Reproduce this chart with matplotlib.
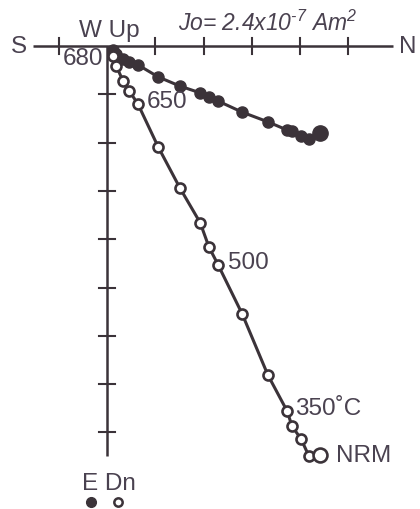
import matplotlib
matplotlib.use('Agg')
import matplotlib.pyplot as plt
import numpy as np

plt.rcParams['font.family'] = ['Liberation Sans', 'DejaVu Sans']
plt.rcParams['mathtext.fontset'] = 'custom'
plt.rcParams['mathtext.rm'] = 'Liberation Sans:italic'
plt.rcParams['mathtext.it'] = 'Liberation Sans:italic'

# demagnetization steps, NRM first (units = one tick division)
north = np.array([4.41, 4.18, 4.02, 3.83, 3.73, 3.33, 2.80, 2.30, 2.11,
                  1.93, 1.51, 1.06, 0.64, 0.46, 0.33, 0.19, 0.12])
east = np.array([1.80, 1.93, 1.86, 1.76, 1.74, 1.57, 1.37, 1.14, 1.06,
                 0.97, 0.83, 0.64, 0.39, 0.33, 0.27, 0.17, 0.08])
down = np.array([8.47, 8.49, 8.14, 7.87, 7.56, 6.81, 5.55, 4.53, 4.16,
                 3.66, 2.94, 2.09, 1.20, 0.93, 0.72, 0.41, 0.21])
step_labels = {0: 'NRM', 4: '350˚C', 7: '500', 12: '650', 16: '680'}

h_ticks = [-1, 1, 2, 3, 4, 5]
v_ticks = [1, 2, 3, 4, 5, 6, 7, 8]

ink = '#3b3339'
txt = '#4a4250'

fig = plt.figure(figsize=(4.2, 5.1), dpi=100)
ax = fig.add_axes([0, 0, 1, 1])
px = 48.3  # pixels per division
ax.set_xlim(-107 / px, (420 - 107) / px)
ax.set_ylim((510 - 47) / px, -47 / px)
ax.axis('off')

# axes cross
ax.plot([-1.53, 5.92], [0, 0], color=ink, lw=1.8, solid_capstyle='butt')
ax.plot([0, 0], [0, 8.49], color=ink, lw=1.8, solid_capstyle='butt')
tl = 8 / px
for t in h_ticks:
    ax.plot([t, t], [-tl, tl], color=ink, lw=1.5)
for t in v_ticks:
    ax.plot([-tl, tl], [t, t], color=ink, lw=1.5)

# horizontal projection (filled) and vertical projection (open)
ax.plot(north, east, color=ink, lw=2.2, zorder=2)
ax.plot(north[1:], east[1:], 'o', ms=8, color=ink, mec=ink, zorder=3)
ax.plot(north[:1], east[:1], 'o', ms=11, color=ink, mec=ink, zorder=3)
ax.plot(north, down, color=ink, lw=2.2, zorder=2)
ax.plot(north[1:], down[1:], 'o', ms=7.2, mfc='white', mec=ink, mew=1.9, zorder=3)
ax.plot(north[:1], down[:1], 'o', ms=10, mfc='white', mec=ink, mew=1.9, zorder=4)

fs = 17.5
offsets = {0: (0.33, 0.0), 4: (0.17, -0.06), 7: (0.2, -0.06), 12: (0.18, -0.06), 16: (-0.2, 0.04)}
for i, s in step_labels.items():
    dx, dy = offsets[i]
    ha = 'right' if dx < 0 else 'left'
    ax.text(north[i] + dx, down[i] + dy, s, fontsize=fs, color=txt, ha=ha, va='center')

ax.text(-1.65, 0, 'S', fontsize=fs, color=txt, ha='right', va='center')
ax.text(6.05, 0, 'N', fontsize=fs, color=txt, ha='left', va='center')
ax.text(0.05, -0.34, 'W Up', fontsize=fs, color=txt, ha='center', va='center')
ax.text(0.03, 9.05, 'E Dn', fontsize=fs, color=txt, ha='center', va='center')
ax.text(1.47, -0.5, r'Jo= 2.4x10$^{\text{-7}}$ Am$^{2}$', fontsize=16.5, color=txt,
        style='italic', ha='left', va='center')

# symbol key
ax.plot([-0.33], [9.44], 'o', ms=7, color=ink)
ax.plot([0.23], [9.44], 'o', ms=6, mfc='white', mec=ink, mew=1.8)

fig.savefig('out.png', dpi=100)
